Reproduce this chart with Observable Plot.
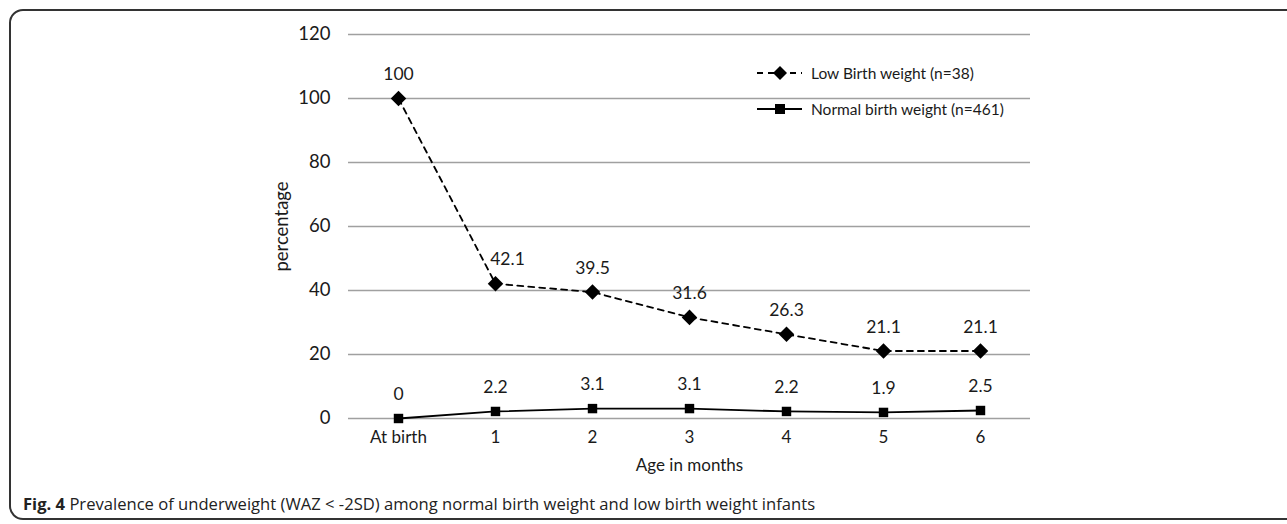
<!DOCTYPE html>
<html>
<head>
<meta charset="utf-8">
<script src="https://cdn.jsdelivr.net/npm/d3@7"></script>
<script src="https://cdn.jsdelivr.net/npm/@observablehq/plot@0.6"></script>
<style>
  html, body { margin: 0; padding: 0; background: #fff; overflow: hidden; }
  #wrap { position: relative; width: 1287px; height: 524px; font-family: Lato, sans-serif; color: #1a1a1a; }
  #frame { position: absolute; left: 9px; top: 9px; width: 1320px; height: 511px; border: 2px solid #333; border-radius: 14px; box-sizing: border-box; }
  #chart { position: absolute; left: 0; top: 0; }
  #legend { position: absolute; left: 757px; top: 62px; font-size: 15.5px; }
  #legend .row { display: flex; align-items: center; height: 22px; margin-bottom: 13.5px; }
  #legend svg { margin-right: 8px; }
  #caption { position: absolute; left: 23px; top: 492px; font-family: "Open Sans", sans-serif; font-size: 16.6px; color: #222; white-space: nowrap; }
  #caption b { font-weight: 700; }
</style>
</head>
<body>
<div id="wrap">
  <div id="frame"></div>
  <div id="chart"></div>
  <div id="legend"></div>
  <div id="caption"><b>Fig. 4</b> Prevalence of underweight (WAZ &lt; -2SD) among normal birth weight and low birth weight infants</div>
</div>
<script>
const categories = ["At birth", "1", "2", "3", "4", "5", "6"];
const lowBirthWeight = [100, 42.1, 39.5, 31.6, 26.3, 21.1, 21.1];
const normalBirthWeight = [0, 2.2, 3.1, 3.1, 2.2, 1.9, 2.5];
const yTicks = [0, 20, 40, 60, 80, 100, 120];
const seriesNames = ["Low Birth weight (n=38)", "Normal birth weight (n=461)"];

const low = categories.map((c, i) => ({age: c, value: lowBirthWeight[i], i}));
const normal = categories.map((c, i) => ({age: c, value: normalBirthWeight[i], i}));

const chart = Plot.plot({
  width: 1287,
  height: 485,
  marginLeft: 348,
  marginRight: 257,
  marginTop: 34,
  marginBottom: 67,
  style: {fontFamily: "Lato, sans-serif", color: "#1a1a1a", background: "transparent"},
  x: {type: "point", domain: categories, padding: 0.5},
  y: {domain: [0, 120]},
  marks: [
    Plot.gridY(yTicks, {stroke: "#a0a0a0", strokeOpacity: 1, strokeWidth: 1.6}),
    Plot.axisY(yTicks, {tickSize: 0, tickPadding: 18, fontSize: 18.5, label: "percentage", labelAnchor: "center", labelOffset: 74, labelArrow: "none"}),
    Plot.axisX({tickSize: 0, tickPadding: 12, fontSize: 17, label: "Age in months", labelAnchor: "center", labelOffset: 52, labelArrow: "none"}),
    Plot.line(low, {x: "age", y: "value", stroke: "#000", strokeWidth: 1.8, strokeDasharray: "6,5"}),
    Plot.line(normal, {x: "age", y: "value", stroke: "#000", strokeWidth: 1.8}),
    Plot.dot(low, {x: "age", y: "value", symbol: "diamond2", r: 7, fill: "#000", stroke: "none"}),
    Plot.dot(normal, {x: "age", y: "value", symbol: "square2", r: 6, fill: "#000", stroke: "none"}),
    Plot.text(low.filter(d => d.i !== 1), {x: "age", y: "value", text: d => String(d.value), dy: -24, fontSize: 17.5, fill: "#1a1a1a"}),
    Plot.text(low.filter(d => d.i === 1), {x: "age", y: "value", text: d => String(d.value), dy: -24, dx: 12, fontSize: 17.5, fill: "#1a1a1a"}),
    Plot.text(normal, {x: "age", y: "value", text: d => String(d.value), dy: -24, fontSize: 17.5, fill: "#1a1a1a"})
  ]
});
document.getElementById("chart").appendChild(chart);

// legend
const legend = document.getElementById("legend");
const symbols = [
  '<line x1="0" y1="11" x2="45" y2="11" stroke="#000" stroke-width="1.8" stroke-dasharray="6,5"/><path d="M23 4 L30 11 L23 18 L16 11 Z" fill="#000"/>',
  '<line x1="0" y1="11" x2="45" y2="11" stroke="#000" stroke-width="1.8"/><rect x="18" y="6" width="10" height="10" fill="#000"/>'
];
seriesNames.forEach((name, i) => {
  const row = document.createElement("div");
  row.className = "row";
  row.innerHTML = `<svg width="46" height="22">${symbols[i]}</svg><span>${name}</span>`;
  legend.appendChild(row);
});
</script>
</body>
</html>
